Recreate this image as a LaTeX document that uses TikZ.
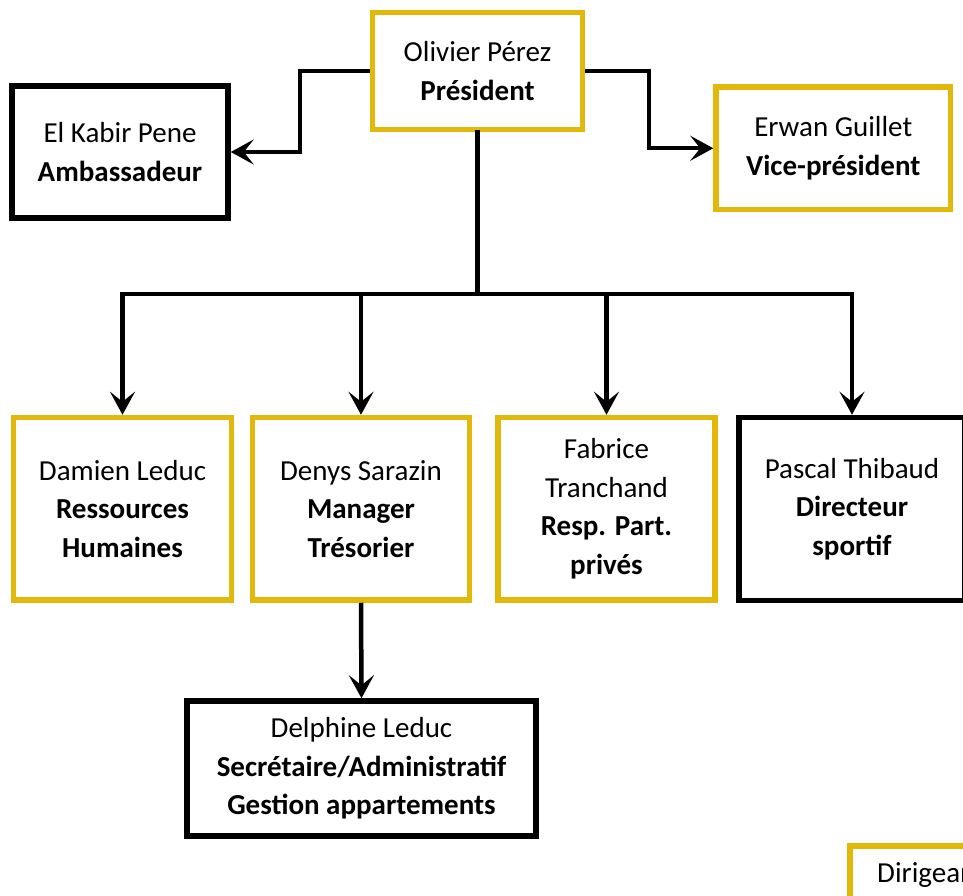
\documentclass[tikz,border=0pt]{standalone}
\usepackage{fontspec}
\setmainfont{Carlito}
\usetikzlibrary{arrows.meta}
\definecolor{gold}{RGB}{226,184,10}
\begin{document}
\begin{tikzpicture}[x=1pt,y=-1pt,
  box/.style={draw,line width=5.5pt,fill=white,align=center,inner sep=0pt,
    font=\fontsize{29}{38.5}\selectfont},
  goldbox/.style={box,draw=gold},
  blackbox/.style={box,draw=black},
  link/.style={line width=4.5pt,line join=miter},
  arr/.style={link,-{Stealth[length=23pt,width=25pt,inset=10pt]}}]
\useasboundingbox (0,0) rectangle (963,896);
\clip (0,0) rectangle (963,896);
% nodes
\node[goldbox,minimum width=210pt,minimum height=117pt] (pres) at (477.5,71) {Olivier Pérez\\\textbf{Président}};
\node[blackbox,minimum width=216pt,minimum height=132pt] (amb) at (120,152) {El Kabir Pene\\\textbf{Ambassadeur}};
\node[goldbox,minimum width=234.5pt,minimum height=122.5pt] (vp) at (833.25,148.25) {Erwan Guillet\\\textbf{Vice-président}};
\node[goldbox,minimum width=218pt,minimum height=182.5pt] (dam) at (122.5,508.75) {Damien Leduc\\\textbf{Ressources}\\\textbf{Humaines}};
\node[goldbox,minimum width=217pt,minimum height=182.5pt] (den) at (361,508.75) {Denys Sarazin\\\textbf{Manager}\\\textbf{Trésorier}};
\node[goldbox,minimum width=217pt,minimum height=182.5pt] (fab) at (606.5,508.75) {Fabrice\\Tranchand\\\textbf{Resp. Part.}\\\textbf{privés}};
\node[blackbox,minimum width=226pt,minimum height=183pt] (pas) at (852,509) {Pascal Thibaud\\\textbf{Directeur}\\\textbf{sportif}};
\node[blackbox,minimum width=349pt,minimum height=135pt] (del) at (361.5,768.5) {Delphine Leduc\\\textbf{Secrétaire/Administratif}\\\textbf{Gestion appartements}};
\node[goldbox,minimum width=200pt,minimum height=120pt,anchor=north west] (dir) at (847,843) {};
\node[anchor=base west,inner sep=0pt,font=\fontsize{29}{38.5}\selectfont] (dirt) at (877,882) {Dirigean};
% connector coordinates
\coordinate (jl) at (300,71);
\coordinate (jr) at (649,71);
\coordinate (bar) at (477.5,294);
% top connectors
\draw[arr] (pres.west) -- (jl) |- (amb.east);
\draw[arr] (pres.east) -- (jr) |- (vp.west);
% trunk and bar
\draw[link,line cap=rect] (pres.south) -- (bar);
\draw[link,line cap=rect] (bar -| dam.north) -- (bar -| pas.north);
% drops
\draw[arr] (bar -| dam.north) -- (dam.north);
\draw[arr] (bar -| den.north) -- (den.north);
\draw[arr] (bar -| fab.north) -- (fab.north);
\draw[arr] (bar -| pas.north) -- (pas.north);
\draw[arr] (den.south) -- (del.north);
\end{tikzpicture}
\end{document}
